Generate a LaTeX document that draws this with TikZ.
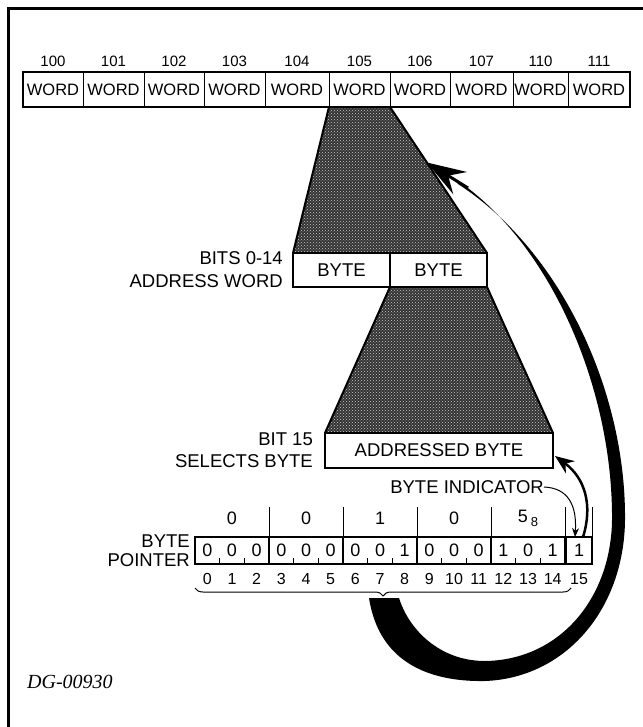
\documentclass[tikz,border=0pt]{standalone}
\usepackage{fontspec}
\setmainfont{Liberation Serif}
\setsansfont{Liberation Sans}
\usetikzlibrary{arrows.meta,positioning,calc,decorations.pathreplacing,patterns}

\tikzset{
  wordcell/.style={draw, line width=1pt, minimum height=35pt, inner sep=0pt, outer sep=0pt,
    font=\sffamily\fontsize{16.5}{16.5}\selectfont},
  addr/.style={font=\sffamily\fontsize{15}{15}\selectfont, inner sep=0pt},
  lbl/.style={font=\sffamily\fontsize{18.5}{23}\selectfont, align=right, inner sep=0pt},
  bytecell/.style={draw, line width=1.5pt, minimum height=34pt, minimum width=97pt, inner sep=0pt,
    outer sep=0pt, font=\sffamily\fontsize{18.5}{18.5}\selectfont},
  bitcell/.style={minimum height=27pt, minimum width=24.67pt, inner sep=0pt, outer sep=0pt,
    font=\sffamily\fontsize{18}{18}\selectfont},
  bitnum/.style={font=\sffamily\fontsize{16}{16}\selectfont, inner sep=0pt},
  stipple/.style={fill=black!80},
  speckle/.style={pattern=crosshatch dots, pattern color=white!80!black},
}

\begin{document}
\begin{tikzpicture}[x=1pt,y=-1pt]
\useasboundingbox (0,0) rectangle (642,727);
\draw[line width=3pt] (8,9) rectangle (660,745);

% memory words
\foreach \a/\b/\lab [count=\i] in {23/83/100,83/144/101,144/204/102,204/265/103,265/329/104,
    329/390/105,390/450/106,450/513/107,513/568/110,568/630/111}{
  \node[wordcell, minimum width={(\b-\a)*1pt}] (w\i) at ({(\a+\b)/2},89.5) {WORD};
  \node[addr] at ({(\a+\b)/2},61) {\lab};
}

\node[bytecell] (b1) at (341.5,270) {BYTE};
\node[bytecell, right=0pt of b1] (b2) {BYTE};
\node[bytecell, minimum width=228pt, minimum height=35pt] (ab) at (439,450.5) {ADDRESSED BYTE};

\fill[stipple] (w6.south west) -- (w6.south east) -- (b2.north east) -- (b1.north west) -- cycle;
\fill[speckle] (w6.south west) -- (w6.south east) -- (b2.north east) -- (b1.north west) -- cycle;
\draw[line width=2pt] (w6.south west) -- (b1.north west) (w6.south east) -- (b2.north east);
\fill[stipple] (b2.south west) -- (b2.south east) -- (ab.north east) -- (ab.north west) -- cycle;
\fill[speckle] (b2.south west) -- (b2.south east) -- (ab.north east) -- (ab.north west) -- cycle;
\draw[line width=2pt] (b2.south west) -- (ab.north west) (b2.south east) -- (ab.north east);
\draw[line width=2.5pt] (w1.north west) rectangle (w10.south east);
\draw[line width=2pt] (b1.north west) rectangle (b2.south east);
\draw[line width=2pt] (ab.north west) rectangle (ab.south east);

\node[lbl, anchor=east, left=10pt of b1] (bits) {BITS 0-14\\ADDRESS WORD};
\node[lbl, anchor=east, left=12pt of ab, font=\sffamily\fontsize{18.5}{22}\selectfont] (sel) {BIT 15\\SELECTS BYTE};
\node[lbl, anchor=east] (bi) at (544,487) {BYTE INDICATOR};

% byte pointer
\foreach \v [count=\i from 0] in {0,0,0,0,0,0,0,0,1,0,0,0,1,0,1}
  \node[bitcell] (p\i) at ({195+24.67*\i+12.33},550.5) {\v};
\node[bitcell, draw, line width=1.5pt, minimum width=26pt] (p15) at (579,550.5) {1};
\draw[line width=2pt] (p0.north west) rectangle (p14.south east);
\foreach \i in {2,5,8,11}
  \draw[line width=1.5pt] (p\i.north east) -- (p\i.south east);
\foreach \i in {0,1,3,4,6,7,9,10,12,13}
  \draw[line width=1pt] (p\i.south east) -- ++(0,-6);
\foreach \i in {2,5,8,11,14,15}
  \draw[line width=1pt] (p\i.north east) -- ++(0,-30);
\foreach \i/\t in {1/0,4/0,7/1,10/0}
  \node[bitcell] at ([yshift=32pt]p\i) {\t};
\node[bitcell] at ([yshift=32pt]p13) {5\,\raisebox{-4pt}{\fontsize{13}{13}\selectfont 8}};
\node[lbl, anchor=east, left=5pt of p0, font=\sffamily\fontsize{18.5}{19}\selectfont] (bp) {BYTE\\POINTER};
\foreach \i in {0,...,15}
  \node[bitnum] (n\i) at ([yshift=-15pt]p\i.south) {\i};

\draw[line width=1pt, decorate, decoration={brace, mirror, amplitude=8pt}]
  ([yshift=-24pt]p0.south west) -- ([yshift=-24pt,xshift=6pt]p14.south east);
\coordinate (tip) at ($(p0.south west)!0.5!(p14.south east)+(4,34)$);
\coordinate (aim) at ($(w6.south east)!0.38!(b2.north east)$);

% bits 0-14 to the word
\fill ($(tip)+(-15,0)$) .. controls ($(tip)+(-5,65)$) and (430,682) .. (485,681)
  .. controls (565,678) and (624,610) .. (625,520)
  .. controls (626,390) and (560,250) .. (458,184) -- (454,178)
  .. controls (553,244) and (613,392) .. (612,520)
  .. controls (611,598) and (560,660) .. (485,661)
  .. controls (440,661) and ($(tip)+(25,32)$) .. ($(tip)+(15,0)$) -- cycle;
\draw[line width=3pt, -{Stealth[length=39pt,width=26pt,inset=14pt]}] (468,188) -- (aim);

% bit 15 to the byte
\draw[line width=2.5pt, -{Stealth[length=19pt,width=15pt]}]
  ($(p15.north)+(4,0)$) .. controls (593,505) and (585,478) .. ($(ab.south east)+(2,-12)$);
\draw[line width=1pt, -{Stealth[length=9pt,width=7pt]}]
  (bi.east) .. controls (568,488) and (577,505) .. ($(p15.north)+(-4,0)$);

\node[font=\fontsize{20}{20}\itshape, anchor=west, inner sep=0pt] (dg) at (27,682) {DG-00930};
\end{tikzpicture}
\end{document}
